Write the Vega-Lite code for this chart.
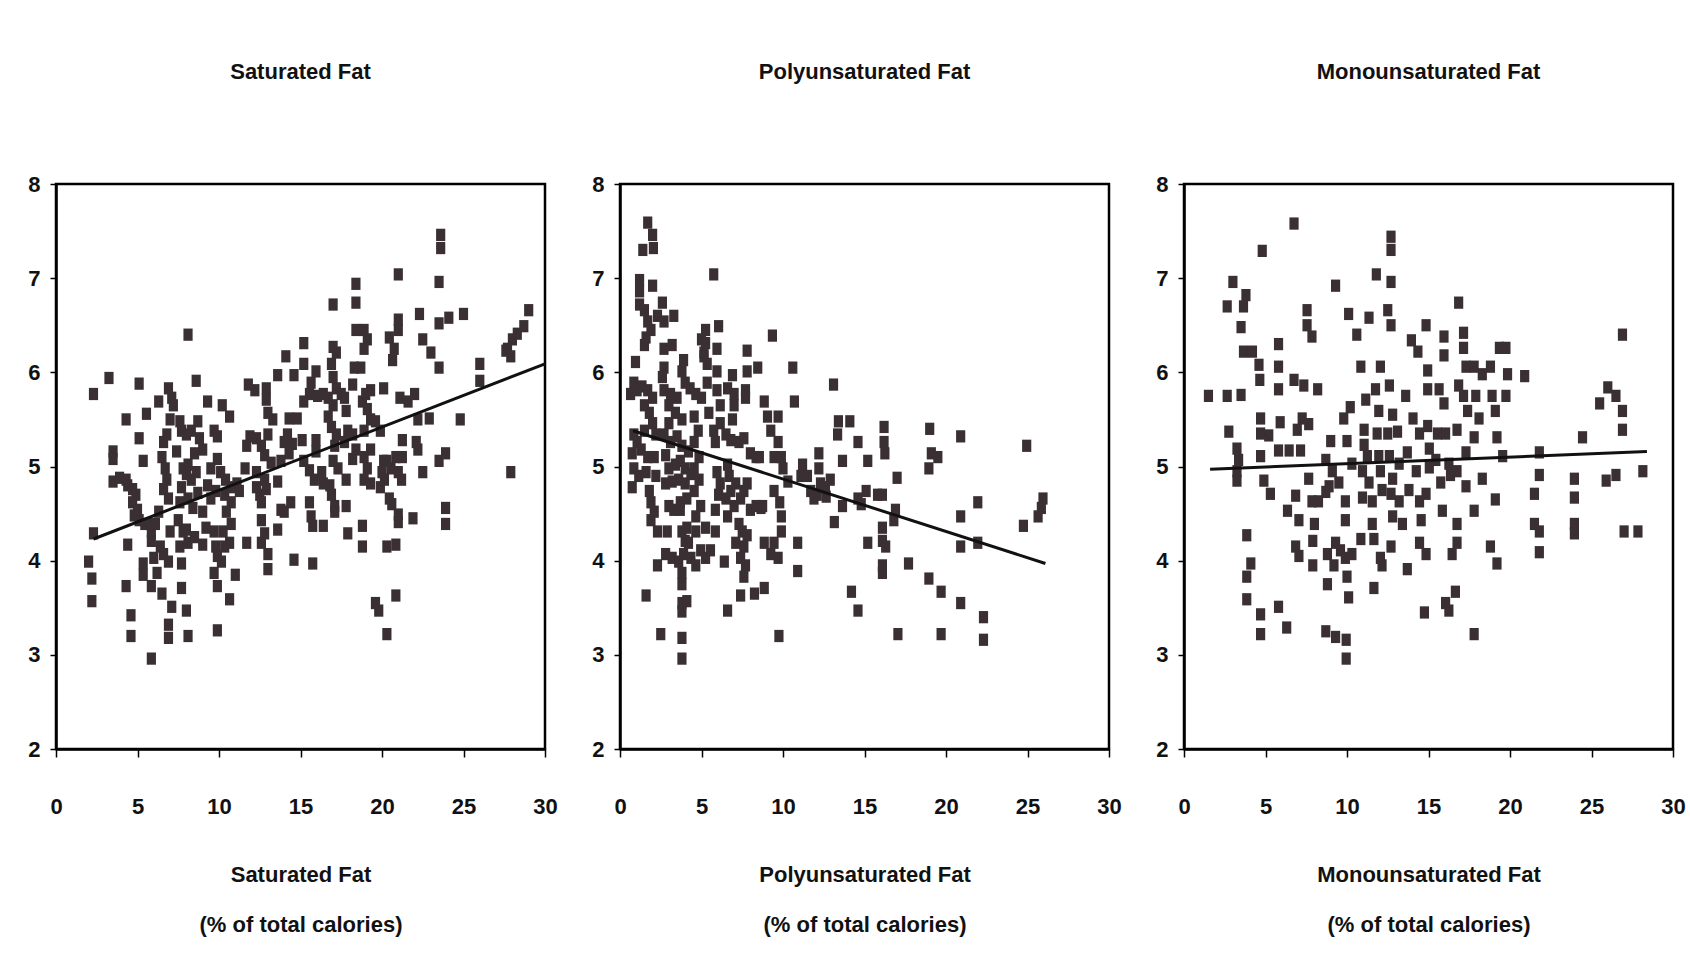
{
  "$schema": "https://vega.github.io/schema/vega-lite/v6.json",
  "background": "white",
  "padding": {"left": 26, "top": 59, "right": 5, "bottom": 5},
  "config": {
    "font": "Liberation Sans, Arial, sans-serif",
    "view": {"stroke": "black", "strokeWidth": 2.5},
    "axis": {
      "grid": false,
      "domainColor": "black",
      "domainWidth": 2.5,
      "tickColor": "black",
      "tickWidth": 1.5,
      "labelColor": "#111",
      "labelFontSize": 22,
      "labelFontWeight": "bold",
      "titleColor": "#111",
      "titleFontSize": 22,
      "titleFontWeight": "bold"
    },
    "axisX": {"tickSize": 8, "labelPadding": 39, "titlePadding": 47, "titleLineHeight": 50, "labelFlush": false},
    "axisY": {"tickSize": 6, "labelPadding": 10},
    "title": {"fontSize": 22, "fontWeight": "bold", "color": "#111", "offset": 89, "anchor": "middle"}
  },
  "datasets": {
    "sat": [
      {"x":2.3,"y":5.77},{"x":3.25,"y":5.94},{"x":3.5,"y":5.16},{"x":3.5,"y":5.08},{"x":3.5,"y":4.84},{"x":2.3,"y":4.29},{"x":2.0,"y":3.99},{"x":2.2,"y":3.81},{"x":2.2,"y":3.57},{"x":3.9,"y":4.88},{"x":4.3,"y":4.86},
      {"x":4.3,"y":5.5},{"x":5.1,"y":5.88},{"x":5.55,"y":5.56},{"x":5.1,"y":5.3},{"x":5.35,"y":5.06},{"x":4.4,"y":4.8},{"x":4.7,"y":4.76},{"x":4.9,"y":4.7},{"x":4.7,"y":4.62},{"x":5.0,"y":4.54},{"x":4.8,"y":4.48},{"x":5.1,"y":4.43},{"x":5.45,"y":4.39},{"x":4.4,"y":4.17},{"x":4.3,"y":3.73},{"x":4.6,"y":3.42},{"x":4.6,"y":3.2},{"x":5.35,"y":3.97},{"x":5.35,"y":3.85},{"x":5.85,"y":2.96},{"x":5.75,"y":4.39},{"x":5.85,"y":4.31},
      {"x":6.3,"y":5.69},{"x":6.9,"y":5.83},{"x":7.1,"y":5.73},{"x":7.2,"y":5.65},{"x":7.0,"y":5.5},{"x":6.8,"y":5.34},{"x":6.6,"y":5.26},{"x":6.5,"y":5.1},{"x":6.7,"y":4.98},{"x":6.8,"y":4.86},{"x":6.6,"y":4.76},{"x":6.9,"y":4.66},{"x":6.3,"y":4.52},{"x":6.1,"y":4.39},{"x":5.85,"y":4.21},{"x":6.4,"y":4.15},{"x":6.0,"y":4.03},{"x":6.6,"y":4.07},{"x":6.9,"y":3.99},{"x":5.85,"y":3.73},{"x":6.2,"y":3.87},{"x":6.5,"y":3.65},{"x":7.1,"y":3.51},{"x":6.9,"y":3.32},{"x":6.9,"y":3.18},{"x":7.0,"y":4.31},{"x":7.5,"y":4.43},{"x":7.6,"y":4.62},{"x":7.7,"y":3.71},{"x":7.7,"y":3.97},{"x":7.6,"y":4.15},{"x":7.8,"y":4.31},{"x":7.7,"y":5.38},{"x":7.6,"y":5.48},{"x":7.8,"y":4.98},{"x":7.7,"y":4.78},{"x":7.4,"y":5.16},
      {"x":8.1,"y":6.4},{"x":8.6,"y":5.91},{"x":8.0,"y":5.34},{"x":8.3,"y":5.38},{"x":8.7,"y":5.48},{"x":8.8,"y":5.3},{"x":9.0,"y":5.18},{"x":8.5,"y":5.14},{"x":8.1,"y":5.02},{"x":8.0,"y":4.92},{"x":8.3,"y":4.86},{"x":8.6,"y":4.94},{"x":8.7,"y":4.72},{"x":8.1,"y":4.66},{"x":8.4,"y":4.56},{"x":9.0,"y":4.52},{"x":8.0,"y":4.33},{"x":8.5,"y":4.25},{"x":8.1,"y":4.19},{"x":9.0,"y":4.17},{"x":8.0,"y":3.47},{"x":8.1,"y":3.2},{"x":9.3,"y":5.69},{"x":9.7,"y":5.38},{"x":9.9,"y":5.32},{"x":9.5,"y":4.98},{"x":9.3,"y":4.8},{"x":9.8,"y":4.74},{"x":9.5,"y":4.66},{"x":9.2,"y":4.35},{"x":9.7,"y":4.31},{"x":9.8,"y":4.15},{"x":9.9,"y":4.05},{"x":9.9,"y":3.73},{"x":9.9,"y":3.26},{"x":9.7,"y":3.87},{"x":9.9,"y":5.08},
      {"x":10.2,"y":5.65},{"x":10.65,"y":5.53},{"x":10.1,"y":4.94},{"x":10.4,"y":4.86},{"x":10.75,"y":4.78},{"x":11.1,"y":4.82},{"x":10.35,"y":4.7},{"x":10.75,"y":4.62},{"x":10.45,"y":4.52},{"x":10.75,"y":4.39},{"x":10.25,"y":4.31},{"x":10.35,"y":4.15},{"x":10.15,"y":3.99},{"x":10.65,"y":4.19},{"x":10.65,"y":3.59},{"x":11.0,"y":3.85},{"x":11.7,"y":4.19},{"x":11.25,"y":4.74},{"x":11.8,"y":5.87},{"x":11.7,"y":5.22},{"x":11.9,"y":5.32},{"x":11.6,"y":4.98},
      {"x":12.2,"y":5.81},{"x":12.9,"y":5.83},{"x":12.9,"y":5.71},{"x":12.3,"y":5.3},{"x":12.6,"y":5.22},{"x":13.0,"y":5.34},{"x":12.8,"y":5.12},{"x":13.2,"y":5.04},{"x":12.3,"y":4.94},{"x":12.3,"y":4.78},{"x":12.5,"y":4.7},{"x":12.6,"y":4.62},{"x":12.8,"y":4.86},{"x":12.9,"y":4.76},{"x":12.6,"y":4.43},{"x":12.8,"y":4.29},{"x":12.6,"y":4.19},{"x":13.0,"y":4.07},{"x":13.0,"y":3.91},{"x":13.6,"y":4.33},{"x":13.8,"y":4.54},{"x":13.6,"y":4.84},{"x":13.3,"y":5.5},{"x":13.6,"y":5.97},{"x":14.1,"y":6.17},{"x":14.0,"y":5.26},{"x":13.8,"y":5.06},{"x":13.0,"y":5.57},
      {"x":14.3,"y":5.51},{"x":14.8,"y":5.51},{"x":15.2,"y":6.31},{"x":15.2,"y":6.09},{"x":14.6,"y":5.97},{"x":14.2,"y":5.34},{"x":14.5,"y":5.24},{"x":15.1,"y":5.28},{"x":14.3,"y":5.14},{"x":14.4,"y":4.62},{"x":14.0,"y":4.52},{"x":14.6,"y":4.01},{"x":15.75,"y":3.97},{"x":15.75,"y":4.37},{"x":15.55,"y":4.62},{"x":15.65,"y":4.47},{"x":15.55,"y":4.96},{"x":15.85,"y":4.86},{"x":15.95,"y":5.28},{"x":15.95,"y":5.16},{"x":15.2,"y":5.69},{"x":15.55,"y":5.77},{"x":15.65,"y":5.89},{"x":15.95,"y":6.01},{"x":16.05,"y":5.75},{"x":15.2,"y":5.06},
      {"x":17.0,"y":6.72},{"x":17.0,"y":6.27},{"x":17.2,"y":6.21},{"x":16.9,"y":6.09},{"x":17.0,"y":5.95},{"x":17.2,"y":5.83},{"x":16.7,"y":5.73},{"x":16.4,"y":5.77},{"x":17.0,"y":5.65},{"x":16.7,"y":5.53},{"x":16.9,"y":5.42},{"x":17.2,"y":5.34},{"x":17.1,"y":5.22},{"x":17.0,"y":5.06},{"x":17.3,"y":4.98},{"x":16.3,"y":4.94},{"x":16.4,"y":4.82},{"x":16.8,"y":4.8},{"x":16.9,"y":4.7},{"x":17.1,"y":4.58},{"x":17.1,"y":4.52},{"x":16.4,"y":4.37},{"x":17.8,"y":4.86},{"x":17.8,"y":4.58},{"x":17.9,"y":4.29},{"x":17.7,"y":5.73},{"x":17.8,"y":5.59},{"x":17.9,"y":5.38},{"x":17.7,"y":5.26},{"x":17.5,"y":5.77},
      {"x":18.4,"y":6.94},{"x":18.4,"y":6.74},{"x":18.4,"y":6.45},{"x":18.9,"y":6.45},{"x":19.1,"y":6.35},{"x":18.9,"y":6.25},{"x":18.7,"y":6.05},{"x":18.3,"y":6.05},{"x":18.2,"y":5.87},{"x":19.0,"y":5.77},{"x":19.3,"y":5.81},{"x":18.8,"y":5.69},{"x":19.1,"y":5.61},{"x":19.3,"y":5.5},{"x":18.9,"y":5.38},{"x":18.2,"y":5.34},{"x":18.4,"y":5.18},{"x":18.2,"y":5.08},{"x":18.9,"y":5.1},{"x":19.3,"y":5.18},{"x":19.1,"y":4.98},{"x":18.9,"y":4.86},{"x":19.3,"y":4.82},{"x":19.6,"y":5.48},{"x":19.9,"y":5.38},{"x":20.1,"y":5.83},{"x":18.8,"y":4.37},{"x":18.8,"y":4.15},{"x":19.6,"y":3.55},{"x":19.8,"y":3.47},{"x":20.0,"y":4.94},{"x":19.9,"y":4.78},{"x":20.1,"y":5.06},
      {"x":21.0,"y":7.04},{"x":21.0,"y":6.56},{"x":21.0,"y":6.45},{"x":20.45,"y":6.37},{"x":20.75,"y":6.25},{"x":20.65,"y":6.13},{"x":21.1,"y":5.73},{"x":21.6,"y":5.69},{"x":22.0,"y":5.77},{"x":20.3,"y":5.06},{"x":20.55,"y":4.98},{"x":20.85,"y":5.1},{"x":21.25,"y":5.28},{"x":21.25,"y":5.1},{"x":21.0,"y":4.94},{"x":21.2,"y":4.86},{"x":20.15,"y":4.86},{"x":20.6,"y":4.6},{"x":21.0,"y":4.49},{"x":21.0,"y":4.41},{"x":20.45,"y":4.66},{"x":20.3,"y":4.15},{"x":20.85,"y":4.17},{"x":20.3,"y":3.22},{"x":20.85,"y":3.63},{"x":21.9,"y":4.45},{"x":22.2,"y":5.5},{"x":22.2,"y":5.18},{"x":22.1,"y":5.26},{"x":22.3,"y":6.62},
      {"x":22.5,"y":6.35},{"x":23.0,"y":6.21},{"x":22.9,"y":5.51},{"x":22.5,"y":4.94},{"x":23.6,"y":7.46},{"x":23.6,"y":7.32},{"x":23.5,"y":6.96},{"x":23.5,"y":6.52},{"x":24.1,"y":6.58},{"x":23.5,"y":6.05},{"x":25.0,"y":6.62},{"x":23.5,"y":5.06},{"x":23.9,"y":5.14},{"x":23.9,"y":4.56},{"x":23.9,"y":4.39},{"x":24.8,"y":5.5},{"x":26.0,"y":6.09},{"x":26.0,"y":5.91},{"x":27.9,"y":4.94},{"x":29.0,"y":6.66},{"x":28.7,"y":6.49},{"x":28.3,"y":6.41},{"x":28.0,"y":6.35},{"x":27.7,"y":6.25},{"x":27.9,"y":6.17},{"x":27.6,"y":6.23}
    ],
    "poly": [
      {"x":1.7,"y":7.59},{"x":2.0,"y":7.46},{"x":1.4,"y":7.3},{"x":2.05,"y":7.32},{"x":2.0,"y":6.92},{"x":1.2,"y":6.98},{"x":1.2,"y":6.86},{"x":1.2,"y":6.72},{"x":1.5,"y":6.66},{"x":1.7,"y":6.54},{"x":1.9,"y":6.45},{"x":1.6,"y":6.37},{"x":1.5,"y":6.29},{"x":2.3,"y":6.6},{"x":2.6,"y":6.74},{"x":2.7,"y":6.54},{"x":0.95,"y":6.11},{"x":0.85,"y":5.89},{"x":0.65,"y":5.77},{"x":1.05,"y":5.81},{"x":1.35,"y":5.85},{"x":1.7,"y":5.81},{"x":2.0,"y":5.73},{"x":1.5,"y":5.65},{"x":1.8,"y":5.57},{"x":0.85,"y":5.34},{"x":1.05,"y":5.26},{"x":0.75,"y":5.14},{"x":1.3,"y":5.18},{"x":0.85,"y":4.98},{"x":1.15,"y":4.9},{"x":0.75,"y":4.78},{"x":1.5,"y":5.38},{"x":1.7,"y":5.1},{"x":1.6,"y":4.94},{"x":1.8,"y":4.74},{"x":1.9,"y":4.62},{"x":2.1,"y":4.52},{"x":1.9,"y":4.43},{"x":2.3,"y":4.31},{"x":2.3,"y":3.95},{"x":1.6,"y":3.63},{"x":2.5,"y":3.22},{"x":2.2,"y":4.9},{"x":2.1,"y":5.1},{"x":2.2,"y":5.34},{"x":2.0,"y":5.46},
      {"x":2.7,"y":6.25},{"x":2.7,"y":6.05},{"x":2.6,"y":5.95},{"x":3.3,"y":6.6},{"x":3.2,"y":6.29},{"x":2.7,"y":5.81},{"x":3.1,"y":5.77},{"x":3.5,"y":5.73},{"x":3.9,"y":6.13},{"x":3.8,"y":6.01},{"x":4.0,"y":5.89},{"x":4.3,"y":5.83},{"x":3.0,"y":5.65},{"x":3.4,"y":5.57},{"x":3.8,"y":5.5},{"x":3.0,"y":5.46},{"x":2.7,"y":5.34},{"x":3.1,"y":5.26},{"x":3.5,"y":5.32},{"x":3.8,"y":5.22},{"x":4.2,"y":5.16},{"x":2.8,"y":5.12},{"x":3.0,"y":4.98},{"x":3.4,"y":5.02},{"x":3.7,"y":5.06},{"x":4.0,"y":4.98},{"x":2.8,"y":4.82},{"x":3.2,"y":4.84},{"x":3.6,"y":4.86},{"x":4.0,"y":4.82},{"x":4.35,"y":4.92},{"x":3.0,"y":4.58},{"x":3.3,"y":4.54},{"x":3.7,"y":4.62},{"x":4.1,"y":4.66},{"x":3.7,"y":4.54},{"x":2.9,"y":4.31},{"x":3.8,"y":4.31},{"x":4.1,"y":4.35},{"x":4.0,"y":4.21},{"x":2.8,"y":4.07},{"x":3.2,"y":4.03},{"x":3.6,"y":3.99},{"x":3.9,"y":4.07},{"x":3.8,"y":3.87},{"x":3.8,"y":3.75},{"x":3.8,"y":3.55},{"x":4.1,"y":3.57},{"x":3.8,"y":3.46},{"x":3.8,"y":3.18},{"x":3.8,"y":2.96},{"x":4.35,"y":4.03},{"x":4.2,"y":4.19},
      {"x":5.25,"y":6.45},{"x":5.0,"y":6.35},{"x":5.25,"y":6.31},{"x":5.15,"y":6.21},{"x":5.35,"y":6.09},{"x":5.15,"y":6.17},{"x":5.35,"y":5.89},{"x":4.65,"y":5.77},{"x":5.0,"y":5.73},{"x":5.45,"y":5.57},{"x":4.55,"y":5.53},{"x":4.8,"y":5.38},{"x":4.55,"y":5.26},{"x":4.85,"y":5.1},{"x":4.55,"y":4.98},{"x":4.85,"y":4.86},{"x":4.55,"y":4.74},{"x":4.95,"y":4.58},{"x":4.65,"y":4.47},{"x":5.25,"y":4.35},{"x":4.65,"y":4.31},{"x":4.95,"y":4.11},{"x":4.65,"y":3.95},{"x":5.25,"y":4.03},{"x":5.55,"y":4.11},{"x":5.75,"y":7.04},{"x":6.05,"y":6.49},{"x":5.95,"y":6.25},{"x":5.95,"y":6.01},{"x":5.95,"y":5.81},{"x":5.75,"y":5.38},{"x":6.15,"y":5.46},{"x":5.85,"y":5.26},{"x":5.95,"y":4.94},{"x":6.15,"y":4.82},{"x":6.05,"y":4.7},{"x":5.85,"y":4.54},{"x":5.85,"y":4.31},{"x":6.4,"y":3.99},{"x":6.15,"y":5.65},
      {"x":6.6,"y":5.83},{"x":6.9,"y":5.97},{"x":7.0,"y":5.77},{"x":7.0,"y":5.65},{"x":6.9,"y":5.5},{"x":6.5,"y":5.34},{"x":6.8,"y":5.28},{"x":7.3,"y":5.26},{"x":6.6,"y":5.02},{"x":6.7,"y":4.9},{"x":6.8,"y":4.74},{"x":6.5,"y":4.66},{"x":7.0,"y":4.58},{"x":6.6,"y":4.47},{"x":7.1,"y":4.82},{"x":7.4,"y":4.66},{"x":7.6,"y":4.74},{"x":7.3,"y":4.39},{"x":7.1,"y":4.19},{"x":7.5,"y":4.31},{"x":7.6,"y":4.15},{"x":7.8,"y":4.27},{"x":7.4,"y":4.03},{"x":7.7,"y":3.95},{"x":7.6,"y":3.83},{"x":7.4,"y":3.63},{"x":6.6,"y":3.47},{"x":8.25,"y":3.65},{"x":7.7,"y":5.81},{"x":7.7,"y":5.73},{"x":7.8,"y":6.23},{"x":7.8,"y":6.01},{"x":7.6,"y":5.3},{"x":8.0,"y":5.14},{"x":7.8,"y":4.82},{"x":8.0,"y":4.54},{"x":8.35,"y":4.58},{"x":8.45,"y":6.05},{"x":8.35,"y":5.1},
      {"x":8.85,"y":5.69},{"x":9.05,"y":5.53},{"x":9.25,"y":5.38},{"x":9.7,"y":5.53},{"x":9.7,"y":5.26},{"x":9.45,"y":5.1},{"x":9.9,"y":5.1},{"x":10.0,"y":4.98},{"x":9.45,"y":4.74},{"x":9.8,"y":4.62},{"x":9.9,"y":4.47},{"x":9.9,"y":4.31},{"x":9.45,"y":4.19},{"x":8.85,"y":4.19},{"x":9.25,"y":4.07},{"x":9.7,"y":4.03},{"x":8.85,"y":3.71},{"x":8.55,"y":5.1},{"x":8.75,"y":4.58},{"x":8.65,"y":4.56},{"x":9.35,"y":6.39},{"x":10.6,"y":6.05},{"x":10.7,"y":5.69},{"x":10.3,"y":4.84},{"x":10.9,"y":4.19},{"x":10.9,"y":3.89},{"x":9.75,"y":3.2},
      {"x":11.2,"y":5.02},{"x":11.5,"y":4.9},{"x":11.7,"y":4.74},{"x":12.1,"y":4.7},{"x":12.3,"y":4.82},{"x":12.2,"y":4.98},{"x":12.2,"y":5.14},{"x":12.6,"y":4.78},{"x":12.65,"y":4.68},{"x":12.9,"y":4.86},{"x":13.1,"y":5.87},{"x":13.15,"y":4.41},{"x":13.35,"y":5.34},{"x":13.4,"y":5.48},{"x":13.65,"y":5.06},{"x":13.65,"y":4.58},{"x":11.1,"y":4.9},{"x":11.9,"y":4.66},
      {"x":14.1,"y":5.48},{"x":14.6,"y":5.26},{"x":15.2,"y":5.06},{"x":15.1,"y":4.74},{"x":14.6,"y":4.66},{"x":14.8,"y":4.6},{"x":15.8,"y":4.7},{"x":16.1,"y":4.7},{"x":16.2,"y":5.42},{"x":16.2,"y":5.26},{"x":16.25,"y":5.14},{"x":16.1,"y":4.35},{"x":16.1,"y":4.21},{"x":16.3,"y":4.15},{"x":16.1,"y":3.95},{"x":16.1,"y":3.87},{"x":15.2,"y":4.19},{"x":14.2,"y":3.67},{"x":14.6,"y":3.47},{"x":17.0,"y":4.88},{"x":16.9,"y":4.54},{"x":16.8,"y":4.43},{"x":17.05,"y":3.22},{"x":17.7,"y":3.97},
      {"x":19.0,"y":5.4},{"x":19.1,"y":5.14},{"x":19.5,"y":5.1},{"x":18.95,"y":4.98},{"x":18.95,"y":3.81},{"x":19.7,"y":3.67},{"x":19.7,"y":3.22},{"x":20.9,"y":5.32},{"x":20.9,"y":4.47},{"x":20.9,"y":4.15},{"x":20.9,"y":3.55},{"x":21.95,"y":4.62},{"x":21.95,"y":4.19},{"x":22.3,"y":3.4},{"x":22.3,"y":3.16},{"x":24.95,"y":5.22},{"x":24.75,"y":4.37},{"x":25.65,"y":4.47},{"x":25.85,"y":4.56},{"x":25.95,"y":4.66}
    ],
    "mono": [
      {"x":1.5,"y":5.75},{"x":2.65,"y":5.75},{"x":3.5,"y":5.76},{"x":2.75,"y":5.37},{"x":3.25,"y":5.19},{"x":3.35,"y":5.07},{"x":3.25,"y":4.95},{"x":3.25,"y":4.85},{"x":2.65,"y":6.7},{"x":3.0,"y":6.96},{"x":3.8,"y":6.82},{"x":3.65,"y":6.7},{"x":3.5,"y":6.48},{"x":3.65,"y":6.22},{"x":4.2,"y":6.22},{"x":4.6,"y":6.08},{"x":4.65,"y":5.92},{"x":4.8,"y":7.29},{"x":6.75,"y":7.58},{"x":3.85,"y":4.27},{"x":4.1,"y":3.97},{"x":3.85,"y":3.83},{"x":3.85,"y":3.59},{"x":4.7,"y":3.43},{"x":4.7,"y":3.22},{"x":5.8,"y":3.51},{"x":6.3,"y":3.29},{"x":4.7,"y":5.51},{"x":4.7,"y":5.35},{"x":5.2,"y":5.33},{"x":4.7,"y":5.11},{"x":4.9,"y":4.85},{"x":5.3,"y":4.71},
      {"x":5.8,"y":6.3},{"x":5.8,"y":6.06},{"x":5.8,"y":5.82},{"x":5.9,"y":5.47},{"x":5.8,"y":5.17},{"x":6.45,"y":5.17},{"x":7.15,"y":5.17},{"x":6.35,"y":4.53},{"x":7.05,"y":4.43},{"x":6.75,"y":5.92},{"x":7.35,"y":5.86},{"x":6.95,"y":5.39},{"x":7.25,"y":5.51},{"x":7.65,"y":5.45},{"x":7.55,"y":6.66},{"x":7.55,"y":6.5},{"x":7.85,"y":6.38},{"x":8.2,"y":5.82},{"x":7.65,"y":4.87},{"x":6.85,"y":4.69},{"x":6.85,"y":4.15},{"x":7.05,"y":4.05},{"x":7.85,"y":4.63},{"x":8.25,"y":4.63},{"x":8.0,"y":4.39},{"x":7.9,"y":4.21},{"x":7.9,"y":3.95},
      {"x":8.7,"y":4.73},{"x":8.9,"y":4.79},{"x":8.8,"y":4.07},{"x":8.8,"y":3.75},{"x":9.3,"y":4.19},{"x":9.6,"y":4.11},{"x":9.2,"y":3.95},{"x":8.7,"y":3.25},{"x":9.3,"y":3.19},{"x":9.95,"y":3.16},{"x":9.95,"y":2.96},{"x":9.3,"y":6.92},{"x":9.0,"y":5.27},{"x":8.7,"y":5.07},{"x":9.1,"y":4.95},{"x":9.5,"y":4.83},{"x":9.9,"y":4.63},{"x":9.9,"y":4.43},{"x":9.9,"y":4.03},{"x":10.0,"y":3.83},{"x":10.1,"y":3.61},{"x":10.1,"y":6.62},{"x":9.8,"y":5.51},{"x":10.0,"y":5.27},{"x":10.2,"y":5.63},{"x":10.3,"y":5.03},{"x":10.3,"y":4.07},
      {"x":10.6,"y":6.4},{"x":11.35,"y":6.58},{"x":10.85,"y":6.06},{"x":11.15,"y":5.71},{"x":10.85,"y":4.23},{"x":11.05,"y":5.39},{"x":11.05,"y":5.23},{"x":11.25,"y":5.11},{"x":10.95,"y":4.95},{"x":11.35,"y":4.83},{"x":10.95,"y":4.67},{"x":11.55,"y":4.63},{"x":11.55,"y":4.39},{"x":11.65,"y":4.23},{"x":11.65,"y":3.71},{"x":11.8,"y":7.04},{"x":12.05,"y":6.06},{"x":11.75,"y":5.82},{"x":11.95,"y":5.59},{"x":11.85,"y":5.35},{"x":11.95,"y":5.11},{"x":12.05,"y":4.95},{"x":12.15,"y":4.75},{"x":12.05,"y":4.03},{"x":12.15,"y":3.95},
      {"x":12.7,"y":7.44},{"x":12.7,"y":7.3},{"x":12.7,"y":6.96},{"x":12.5,"y":6.66},{"x":12.7,"y":6.5},{"x":12.6,"y":5.86},{"x":12.8,"y":5.55},{"x":12.5,"y":5.35},{"x":12.6,"y":5.11},{"x":12.8,"y":4.87},{"x":12.7,"y":4.71},{"x":12.8,"y":4.47},{"x":12.7,"y":4.15},{"x":13.1,"y":5.37},{"x":13.2,"y":5.03},{"x":13.2,"y":4.63},{"x":13.4,"y":4.39},{"x":13.6,"y":5.75},{"x":13.7,"y":5.15},{"x":13.7,"y":3.91},{"x":13.8,"y":4.75},
      {"x":13.95,"y":6.34},{"x":14.05,"y":5.51},{"x":14.35,"y":6.22},{"x":14.45,"y":5.35},{"x":14.25,"y":4.95},{"x":14.45,"y":4.63},{"x":14.55,"y":4.43},{"x":14.45,"y":4.19},{"x":14.85,"y":4.07},{"x":14.85,"y":6.5},{"x":14.95,"y":6.02},{"x":14.95,"y":5.82},{"x":14.95,"y":5.43},{"x":15.05,"y":5.19},{"x":15.05,"y":4.99},{"x":14.85,"y":4.71},{"x":14.75,"y":3.45},{"x":15.65,"y":5.82},{"x":15.55,"y":5.35},{"x":15.45,"y":5.07},{"x":15.75,"y":4.83},{"x":15.85,"y":4.53},{"x":15.95,"y":6.38},{"x":15.95,"y":6.18},{"x":15.95,"y":5.67},{"x":16.05,"y":5.35},{"x":16.05,"y":3.55},{"x":16.25,"y":3.47},{"x":16.65,"y":3.67},{"x":16.25,"y":5.03},{"x":16.35,"y":4.91},{"x":16.45,"y":4.07},{"x":16.75,"y":4.39},{"x":16.75,"y":4.19},
      {"x":16.85,"y":6.74},{"x":16.85,"y":5.86},{"x":16.75,"y":5.39},{"x":16.75,"y":4.95},{"x":17.15,"y":6.42},{"x":17.15,"y":6.26},{"x":17.3,"y":6.06},{"x":17.15,"y":5.75},{"x":17.4,"y":5.59},{"x":17.3,"y":5.15},{"x":17.3,"y":4.79},{"x":17.8,"y":6.06},{"x":17.9,"y":5.75},{"x":17.8,"y":5.31},{"x":17.8,"y":4.53},{"x":17.8,"y":3.22},{"x":18.1,"y":5.51},{"x":18.3,"y":4.87},{"x":18.3,"y":5.98},{"x":18.8,"y":6.06},{"x":18.9,"y":5.75},{"x":19.1,"y":5.59},{"x":19.2,"y":5.31},{"x":19.55,"y":5.11},{"x":19.1,"y":4.65},{"x":18.8,"y":4.15},{"x":19.2,"y":3.97},{"x":19.35,"y":6.26},{"x":19.75,"y":6.26},{"x":19.85,"y":5.98},{"x":19.75,"y":5.75},
      {"x":20.9,"y":5.96},{"x":21.8,"y":5.15},{"x":21.8,"y":4.91},{"x":21.5,"y":4.71},{"x":21.5,"y":4.39},{"x":21.8,"y":4.31},{"x":21.8,"y":4.09},{"x":24.45,"y":5.31},{"x":23.95,"y":4.87},{"x":23.95,"y":4.67},{"x":23.95,"y":4.39},{"x":23.95,"y":4.29},{"x":25.5,"y":5.67},{"x":26.0,"y":5.84},{"x":26.5,"y":5.75},{"x":26.9,"y":5.59},{"x":26.9,"y":5.39},{"x":26.9,"y":6.4},{"x":25.9,"y":4.85},{"x":26.5,"y":4.91},{"x":27.0,"y":4.31},{"x":27.85,"y":4.31},{"x":28.15,"y":4.95}
    ],
    "fits": [
      {"panel":"sat","x":2.3,"y":4.23},{"panel":"sat","x":30.0,"y":6.09},
      {"panel":"poly","x":0.8,"y":5.38},{"panel":"poly","x":26.1,"y":3.97},
      {"panel":"mono","x":1.6,"y":4.97},{"panel":"mono","x":28.4,"y":5.16}
    ]
  },
  "bounds": "flush",
  "spacing": 75,
  "hconcat": [
    {
      "width": 489,
      "height": 565,
      "title": "Saturated Fat",
      "layer": [
        {
          "data": {"name": "sat"},
          "mark": {"type": "point", "shape": "M-0.75,-1L0.75,-1L0.75,1L-0.75,1Z", "filled": true, "size": 150, "color": "#3a3034", "opacity": 1},
          "encoding": {
            "x": {"field": "x", "type": "quantitative", "scale": {"domain": [0, 30]}, "axis": {"values": [0, 5, 10, 15, 20, 25, 30], "title": ["Saturated Fat", "(% of total calories)"]}},
            "y": {"field": "y", "type": "quantitative", "scale": {"domain": [2, 8]}, "axis": {"values": [2, 3, 4, 5, 6, 7, 8], "format": "d", "title": null}}
          }
        },
        {
          "data": {"name": "fits"},
          "transform": [{"filter": "datum.panel === 'sat'"}],
          "mark": {"type": "line", "color": "#111", "strokeWidth": 3},
          "encoding": {"x": {"field": "x", "type": "quantitative"}, "y": {"field": "y", "type": "quantitative"}}
        }
      ]
    },
    {
      "width": 489,
      "height": 565,
      "title": "Polyunsaturated Fat",
      "layer": [
        {
          "data": {"name": "poly"},
          "mark": {"type": "point", "shape": "M-0.75,-1L0.75,-1L0.75,1L-0.75,1Z", "filled": true, "size": 150, "color": "#3a3034", "opacity": 1},
          "encoding": {
            "x": {"field": "x", "type": "quantitative", "scale": {"domain": [0, 30]}, "axis": {"values": [0, 5, 10, 15, 20, 25, 30], "title": ["Polyunsaturated Fat", "(% of total calories)"]}},
            "y": {"field": "y", "type": "quantitative", "scale": {"domain": [2, 8]}, "axis": {"values": [2, 3, 4, 5, 6, 7, 8], "format": "d", "title": null}}
          }
        },
        {
          "data": {"name": "fits"},
          "transform": [{"filter": "datum.panel === 'poly'"}],
          "mark": {"type": "line", "color": "#111", "strokeWidth": 3},
          "encoding": {"x": {"field": "x", "type": "quantitative"}, "y": {"field": "y", "type": "quantitative"}}
        }
      ]
    },
    {
      "width": 489,
      "height": 565,
      "title": "Monounsaturated Fat",
      "layer": [
        {
          "data": {"name": "mono"},
          "mark": {"type": "point", "shape": "M-0.75,-1L0.75,-1L0.75,1L-0.75,1Z", "filled": true, "size": 150, "color": "#3a3034", "opacity": 1},
          "encoding": {
            "x": {"field": "x", "type": "quantitative", "scale": {"domain": [0, 30]}, "axis": {"values": [0, 5, 10, 15, 20, 25, 30], "title": ["Monounsaturated Fat", "(% of total calories)"]}},
            "y": {"field": "y", "type": "quantitative", "scale": {"domain": [2, 8]}, "axis": {"values": [2, 3, 4, 5, 6, 7, 8], "format": "d", "title": null}}
          }
        },
        {
          "data": {"name": "fits"},
          "transform": [{"filter": "datum.panel === 'mono'"}],
          "mark": {"type": "line", "color": "#111", "strokeWidth": 3},
          "encoding": {"x": {"field": "x", "type": "quantitative"}, "y": {"field": "y", "type": "quantitative"}}
        }
      ]
    }
  ]
}
